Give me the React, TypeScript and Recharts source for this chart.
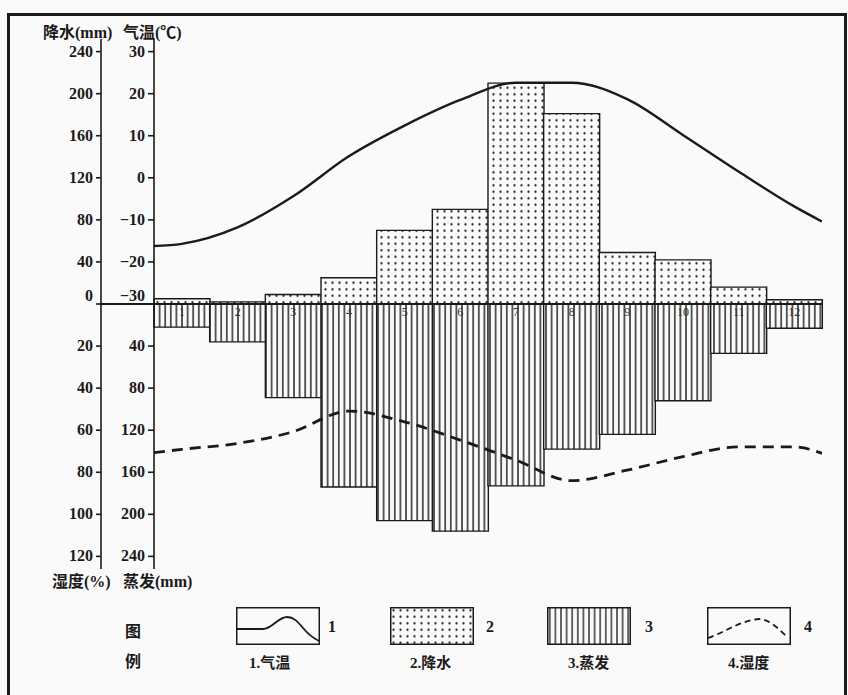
import React from "react";
import {
  ComposedChart,
  Bar,
  Line,
  XAxis,
  YAxis,
  ReferenceLine,
  LabelList,
} from "recharts";

const months = ["1", "2", "3", "4", "5", "6", "7", "8", "9", "10", "11", "12"];
// mm
const precipitation = [5, 2, 9, 25, 70, 90, 210, 181, 49, 42, 16, 4];
const evaporation = [22, 36, 89, 174, 206, 216, 173, 138, 124, 92, 47, 23];

// curves read at the left edge, each month centre and the right edge
const curveX = [0, 0.5, 1.5, 2.5, 3.5, 4.5, 5.5, 6.5, 7.5, 8.5, 9.5, 10.5, 11.5, 12];
const temperature = [-16.2, -15.7, -11.8, -4.4, 5.1, 12.4, 18.5, 22.6, 22.6, 18.7, 10.2, 1.5, -6.8, -10.4];
const humidity = [70.7, 69.1, 66.3, 60.7, 50.9, 56.0, 64.7, 74.2, 84.0, 79.0, 72.6, 67.9, 67.9, 71.0];

// left axis: precipitation above 0, humidity below (1 % = 2 mm)
const precipTicks = [240, 200, 160, 120, 80, 40, 0, -40, -80, -120, -160, -200, -240];
// inner axis: temperature above -30, evaporation below (1 °C = 4 mm)
const tempTicks = [30, 20, 10, 0, -10, -20, -30, -40, -50, -60, -70, -80, -90];

const table = months.map((m, i) => ({
  month: m,
  precip: precipitation[i],
  evap: -evaporation[i],
}));
const tempLine = curveX.map((x, i) => ({ x, t: temperature[i] }));
const humLine = curveX.map((x, i) => ({ x, h: humidity[i] }));

const INK = "#1a1a1a";
const PAPER = "#fafafa";
const NUM_FONT = '"Liberation Serif", "Noto Sans CJK SC", serif';

const fmtPrecip = (v: number) => (v >= 0 ? `${v}` : `${-v / 2}`);
const fmtTemp = (v: number) =>
  v >= -30 ? (v < 0 ? `\u2212${-v}` : `${v}`) : `${-(v + 30) * 4}`;

function AxisTick(props: any) {
  const { x, y, payload, format, lift } = props;
  const v = payload.value;
  return (
    <text
      x={x}
      y={y}
      dy={v === lift ? -3 : 5}
      textAnchor="end"
      fontFamily={NUM_FONT}
      fontWeight="bold"
      fontSize={16}
      fill={INK}
    >
      {format(v)}
    </text>
  );
}

const label: React.CSSProperties = {
  position: "absolute",
  fontFamily: NUM_FONT,
  fontWeight: "bold",
  fontSize: 16,
  color: INK,
  whiteSpace: "nowrap",
  lineHeight: "18px",
};

function LegendBox({ left, kind }: { left: number; kind: number }) {
  return (
    <svg
      width={84}
      height={38}
      style={{ position: "absolute", left, top: 607, overflow: "visible" }}
    >
      <defs>
        <pattern id={`ldots${kind}`} width="7" height="6.5" patternUnits="userSpaceOnUse">
          <circle cx="3.5" cy="3.2" r="1.1" fill={INK} />
        </pattern>
        <pattern id={`lstripes${kind}`} width="5.6" height="10" patternUnits="userSpaceOnUse">
          <line x1="2.8" y1="0" x2="2.8" y2="10" stroke={INK} strokeWidth="1.3" />
        </pattern>
      </defs>
      <rect
        x={0.75}
        y={0.75}
        width={82.5}
        height={36.5}
        fill={kind === 2 ? `url(#ldots${kind})` : kind === 3 ? `url(#lstripes${kind})` : "none"}
        stroke={INK}
        strokeWidth={1.5}
      />
      {kind === 1 && (
        <path
          d="M0,22 L27,22 C36,22 42,10 51,10 C58,10 62,15 67,21 C72,27 77,31 83,34"
          fill="none"
          stroke={INK}
          strokeWidth={1.8}
        />
      )}
      {kind === 4 && (
        <path
          d="M1,31 C18,25 35,13 52,12 C62,12 72,22 80,30"
          fill="none"
          stroke={INK}
          strokeWidth={1.8}
          strokeDasharray="6 4"
        />
      )}
    </svg>
  );
}

export default function App() {
  return (
    <div
      style={{
        position: "absolute",
        left: 0,
        top: 0,
        width: 848,
        height: 695,
        background: PAPER,
        overflow: "hidden",
      }}
    >
      <div
        style={{
          position: "absolute",
          left: 7,
          top: 13,
          width: 840,
          height: 700,
          border: `3px solid ${INK}`,
          borderBottom: "none",
          boxSizing: "border-box",
        }}
      />

      <ComposedChart
        width={848}
        height={695}
        data={table}
        margin={{ top: 39, right: 26, bottom: 126, left: 41 }}
        stackOffset="sign"
        barCategoryGap={0}
        barGap={0}
        style={{ position: "absolute", left: 0, top: 0 }}
      >
        <defs>
          <pattern id="dots" width="7" height="6.5" patternUnits="userSpaceOnUse">
            <rect width="7" height="6.5" fill={PAPER} />
            <circle cx="3.5" cy="3.2" r="1.1" fill={INK} />
          </pattern>
          <pattern id="stripes" width="5.6" height="10" patternUnits="userSpaceOnUse">
            <rect width="5.6" height="10" fill={PAPER} />
            <line x1="2.8" y1="0" x2="2.8" y2="10" stroke={INK} strokeWidth="1.4" />
          </pattern>
        </defs>
        <XAxis xAxisId="cat" dataKey="month" hide />
        <XAxis
          xAxisId="num"
          type="number"
          dataKey="x"
          domain={[0, 12]}
          allowDataOverflow
          hide
        />
        {/* ids are ordered so that the temperature axis sits next to the plot */}
        <YAxis
          yAxisId="a_temp"
          domain={[-93, 33]}
          ticks={tempTicks}
          allowDataOverflow
          width={53}
          interval={0}
          stroke={INK}
          strokeWidth={1.6}
          tickSize={6}
          tickMargin={3}
          tick={(p: any) => <AxisTick {...p} format={fmtTemp} lift={-30} />}
        />
        <YAxis
          yAxisId="b_precip"
          domain={[-252, 252]}
          ticks={precipTicks}
          allowDataOverflow
          width={60}
          interval={0}
          stroke={INK}
          strokeWidth={1.6}
          tickSize={5}
          tickMargin={3}
          tick={(p: any) => <AxisTick {...p} format={fmtPrecip} lift={0} />}
        />
        <YAxis
          yAxisId="c_hum"
          domain={[-126, 126]}
          reversed
          allowDataOverflow
          width={0}
          hide
        />

        <Bar
          dataKey="evap"
          xAxisId="cat"
          yAxisId="b_precip"
          stackId="w"
          fill="url(#stripes)"
          stroke={INK}
          strokeWidth={1.4}
          isAnimationActive={false}
        />
        <Bar
          dataKey="precip"
          xAxisId="cat"
          yAxisId="b_precip"
          stackId="w"
          fill="url(#dots)"
          stroke={INK}
          strokeWidth={1.4}
          isAnimationActive={false}
        >
          <LabelList
            dataKey="month"
            position="bottom"
            offset={3}
            fontSize={12}
            fontFamily={NUM_FONT}
            fill="#333"
          />
        </Bar>
        <ReferenceLine
          y={0}
          xAxisId="cat"
          yAxisId="b_precip"
          stroke={INK}
          strokeWidth={2}
        />
        <Line
          data={tempLine}
          dataKey="t"
          xAxisId="num"
          yAxisId="a_temp"
          type="monotone"
          stroke={INK}
          strokeWidth={2.4}
          dot={false}
          isAnimationActive={false}
        />
        <Line
          data={humLine}
          dataKey="h"
          xAxisId="num"
          yAxisId="c_hum"
          type="monotone"
          stroke={INK}
          strokeWidth={2.8}
          strokeDasharray="11 7"
          dot={false}
          isAnimationActive={false}
        />
      </ComposedChart>

      {/* baseline between the two left axes */}
      <div
        style={{
          position: "absolute",
          left: 100,
          top: 303,
          width: 55,
          height: 2,
          background: INK,
        }}
      />

      <div style={{ ...label, left: 43, top: 24 }}>降水(mm)</div>
      <div style={{ ...label, left: 123, top: 24 }}>气温(℃)</div>
      <div style={{ ...label, left: 52, top: 573 }}>湿度(%)</div>
      <div style={{ ...label, left: 123, top: 573 }}>蒸发(mm)</div>

      <div style={{ ...label, left: 125, top: 623 }}>图</div>
      <div style={{ ...label, left: 125, top: 653 }}>例</div>

      <LegendBox left={236} kind={1} />
      <LegendBox left={390} kind={2} />
      <LegendBox left={547} kind={3} />
      <LegendBox left={707} kind={4} />

      <div style={{ ...label, left: 328, top: 618 }}>1</div>
      <div style={{ ...label, left: 486, top: 618 }}>2</div>
      <div style={{ ...label, left: 645, top: 618 }}>3</div>
      <div style={{ ...label, left: 804, top: 618 }}>4</div>

      <div style={{ ...label, left: 249, top: 654, fontSize: 15 }}>1.气温</div>
      <div style={{ ...label, left: 410, top: 654, fontSize: 15 }}>2.降水</div>
      <div style={{ ...label, left: 568, top: 654, fontSize: 15 }}>3.蒸发</div>
      <div style={{ ...label, left: 728, top: 654, fontSize: 15 }}>4.湿度</div>
    </div>
  );
}
